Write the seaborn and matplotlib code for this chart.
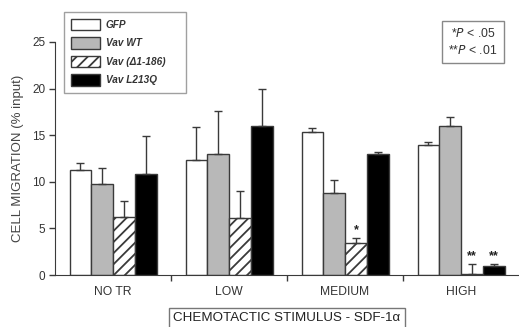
import pandas as pd
import matplotlib.pyplot as plt
import seaborn as sns

# ------------------------------------------------
# Data
# ------------------------------------------------
groups = ["NO TR", "LOW", "MEDIUM", "HIGH"]
series = ["GFP", "Vav WT", "Vav (\u03941-186)", "Vav L213Q"]

gfp = [11.3, 12.3, 15.3, 13.9]
gfp_err = [0.7, 3.6, 0.5, 0.4]
vav_wt = [9.8, 13.0, 8.8, 16.0]
vav_wt_err = [1.7, 4.6, 1.4, 1.0]
vav_delta = [6.2, 6.1, 3.4, 0.1]
vav_delta_err = [1.7, 2.9, 0.6, 1.1]
vav_l213q = [10.8, 16.0, 13.0, 1.0]
vav_l213q_err = [4.1, 4.0, 0.2, 0.2]

# significance marks: (group, series, text)
stars = [("MEDIUM", "Vav (\u03941-186)", "*"),
         ("HIGH", "Vav (\u03941-186)", "**"),
         ("HIGH", "Vav L213Q", "**")]

values = [gfp, vav_wt, vav_delta, vav_l213q]
errors = [gfp_err, vav_wt_err, vav_delta_err, vav_l213q_err]

rows = []
for s, vals, errs in zip(series, values, errors):
    for g, v, e in zip(groups, vals, errs):
        rows.append({"stimulus": g, "construct": s, "migration": v, "err": e})
df = pd.DataFrame(rows)

# ------------------------------------------------
# Plot
# ------------------------------------------------
sns.set_style("ticks")
plt.rcParams["font.family"] = ["Liberation Sans", "DejaVu Sans"]
plt.rcParams["hatch.linewidth"] = 1.3

edge = "#3a3a3a"
colors = ["white", "#b8b8b8", "white", "black"]
hatches = ["", "", "///", ""]

fig = plt.figure(figsize=(5.19, 3.27), dpi=100)
ax = fig.add_axes([55 / 519, 52 / 327, 464 / 519, 233 / 327])

sns.barplot(
    data=df, x="stimulus", y="migration", hue="construct",
    order=groups, hue_order=series, palette=colors,
    width=0.75, errorbar=None, edgecolor=edge, linewidth=1.0,
    ax=ax, legend=True
)

bar_pos = {}
n = len(groups)
for i, s in enumerate(series):
    for j, g in enumerate(groups):
        p = ax.patches[i * n + j]
        p.set_hatch(hatches[i])
        p.set_edgecolor(edge)
        bar_pos[(g, s)] = p.get_x() + p.get_width() / 2

# upper-only error bars
for i, s in enumerate(series):
    xs = [bar_pos[(g, s)] for g in groups]
    ax.errorbar(xs, values[i], yerr=[[0] * n, errors[i]], fmt="none",
                ecolor=edge, elinewidth=1.0, capsize=3, capthick=1.0,
                zorder=1)

for g, s, txt in stars:
    j = groups.index(g)
    i = series.index(s)
    ax.text(bar_pos[(g, s)], values[i][j] + errors[i][j] + 0.2, txt,
            ha="center", va="bottom", fontsize=9, color="#222222",
            fontweight="bold")

ax.set_xlim(-0.5, 3.5)
ax.set_ylim(0, 25)
ax.set_yticks([0, 5, 10, 15, 20, 25])
ax.set_xticks([0.5, 1.5, 2.5], minor=True)
ax.tick_params(axis="x", which="major", length=0, pad=8)
ax.tick_params(axis="x", which="minor", length=4, width=1, color=edge)
ax.tick_params(axis="y", length=4, width=1, color=edge, pad=3)
for lab in ax.get_xticklabels():
    lab.set_fontsize(8.7)
    lab.set_color("#333333")
for lab in ax.get_yticklabels():
    lab.set_fontsize(8.5)
    lab.set_color("#333333")

sns.despine(ax=ax)
ax.spines["left"].set_color(edge)
ax.spines["bottom"].set_color(edge)

ax.set_ylabel("CELL MIGRATION (% input)", fontsize=9.5, color="#444444",
              labelpad=6)
ax.set_xlabel("CHEMOTACTIC STIMULUS - SDF-1\u03b1", fontsize=9.6,
              color="#222222", labelpad=10,
              bbox=dict(boxstyle="square,pad=0.3", fc="white",
                        ec="#777777", lw=1))

leg = ax.legend(
    loc="upper left",
    bbox_to_anchor=(64 / 519, 1 - 93 / 327, 122 / 519, 81 / 327),
    bbox_transform=fig.transFigure, mode="expand", borderaxespad=0,
    frameon=True, fancybox=False, edgecolor="#888888", fontsize=7.2,
    handlelength=2.9, handleheight=1.35, labelspacing=0.72,
    handletextpad=0.6, borderpad=0.7, title=None
)
leg.get_frame().set_linewidth(1.0)
for t in leg.get_texts():
    t.set_fontstyle("italic")
    t.set_fontweight("bold")
    t.set_color("#333333")
for h, hat in zip(leg.legend_handles, hatches):
    h.set_hatch(hat)
    h.set_edgecolor(edge)

fig.text(473 / 519, 1 - 42 / 327,
         "*$\\it{P}$ < .05\n**$\\it{P}$ < .01",
         ha="center", va="center", fontsize=8.8, color="#333333",
         linespacing=1.35,
         bbox=dict(boxstyle="square,pad=0.5", fc="white",
                   ec="#888888", lw=1))

plt.savefig("out.png", dpi=100)
plt.close()
